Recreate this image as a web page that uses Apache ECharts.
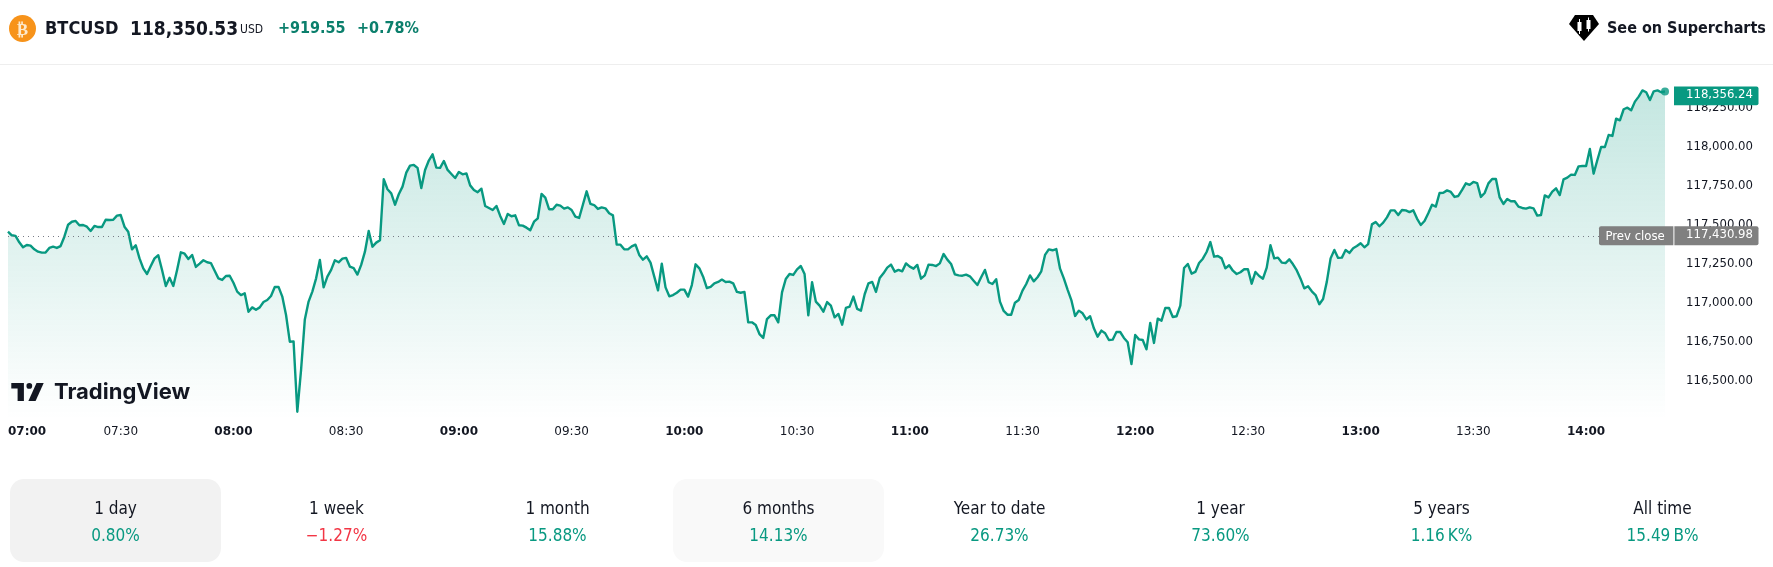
<!DOCTYPE html>
<html>
<head>
<meta charset="utf-8">
<title>BTCUSD</title>
<script src="https://cdn.jsdelivr.net/npm/echarts@6/dist/echarts.min.js"></script>
<style>
html, body { margin: 0; padding: 0; background: #fff; }
body { width: 1773px; height: 567px; position: relative; overflow: hidden;
       font-family: "DejaVu Sans Condensed", "DejaVu Sans", sans-serif; color: #131722; }
#chart { position: absolute; left: 0; top: 0; width: 1773px; height: 567px; }
.abs { position: absolute; white-space: nowrap; }
.head { top: 17px; line-height: 22px; font-size: 18px; font-weight: 700; }
.green { color: #0b7f6c; }
#rule { position: absolute; left: 0; top: 64px; width: 1773px; height: 1px; background: #eeeeee; }
.tile { position: absolute; top: 479px; width: 211px; height: 83px; border-radius: 14px; text-align: center; }
.tile .name { position: absolute; left: 0; right: 0; top: 19px; font-size: 17px; line-height: 20px; color: #131722; }
.tile .val { position: absolute; left: 0; right: 0; top: 46px; font-size: 17px; line-height: 20px; }
</style>
</head>
<body>
<div id="chart"></div>
<div id="rule"></div>

<svg class="abs" style="left:9px;top:15px" width="27" height="27" viewBox="0 0 27 27">
  <circle cx="13.5" cy="13.5" r="13.5" fill="#f7931a"/>
  <text x="13.5" y="19.5" text-anchor="middle" font-size="17" font-weight="700" fill="#fde9cc" font-family="DejaVu Sans">₿</text>
</svg>
<div class="abs head" style="left:45px">BTCUSD</div>
<div class="abs head" style="left:130px;font-size:19px">118,350.53</div>
<div class="abs" style="left:240px;top:21px;font-size:12px;line-height:16px">USD</div>
<div class="abs head green" style="left:278px;font-size:16px">+919.55</div>
<div class="abs head green" style="left:357px;font-size:16px">+0.78%</div>

<svg class="abs" style="left:1569px;top:15px" width="30" height="26" viewBox="0 0 30 26">
  <path d="M6 0H24L30 9L15 26L0 9Z" fill="#000"/>
  <rect x="8.5" y="7" width="4" height="9" fill="#fff"/><rect x="10" y="4" width="1" height="15" fill="#fff"/>
  <rect x="17.5" y="5" width="4" height="9" fill="#fff"/><rect x="19" y="2.5" width="1" height="14" fill="#fff"/>
</svg>
<div class="abs head" style="left:1607px;font-size:16px">See on Supercharts</div>

<svg class="abs" style="left:11px;top:383px" width="33" height="18" viewBox="0 0 36 20">
  <path d="M14 0H0v6h7v14h7z" fill="#131722"/>
  <circle cx="20" cy="3.2" r="3.2" fill="#131722"/>
  <path d="M28 0h8l-9 20h-8z" fill="#131722"/>
</svg>
<div class="abs" style="left:54px;top:377px;font:700 22px/28px Inter, sans-serif;color:#131722">TradingView</div>

<div id="tiles"></div>

<script>
// one close per minute from 07:00
var prices = [
117457,117434,117430,117389,117357,117372,117368,117344,117329,117323,
117323,117353,117361,117353,117365,117425,117502,117521,117526,117498,
117500,117489,117462,117494,117487,117487,117534,117532,117534,117560,
117564,117489,117457,117344,117370,117286,117222,117186,117237,117286,
117306,117212,117109,117162,117109,117212,117325,117316,117282,117308,
117231,117252,117274,117261,117256,117207,117158,117148,117173,117175,
117130,117073,117051,117062,116944,116972,116957,116972,117006,117019,
117045,117103,117103,117041,116923,116752,116754,116303,116571,116895,
117009,117073,117158,117276,117100,117169,117212,117274,117261,117284,
117289,117233,117224,117182,117244,117329,117462,117361,117387,117402,
117793,117729,117703,117630,117697,117746,117836,117881,117885,117866,
117737,117853,117913,117953,117868,117866,117910,117853,117827,117801,
117840,117825,117831,117754,117725,117710,117733,117622,117609,117596,
117622,117558,117507,117571,117556,117562,117498,117496,117483,117466,
117521,117543,117699,117675,117601,117601,117630,117624,117605,117613,
117596,117554,117545,117630,117716,117635,117628,117603,117613,117607,
117575,117562,117374,117374,117344,117344,117363,117374,117308,117278,
117299,117259,117169,117081,117252,117100,117043,117051,117066,117086,
117086,117041,117115,117248,117222,117169,117096,117103,117126,117135,
117150,117135,117137,117126,117071,117066,117071,116876,116876,116859,
116801,116776,116897,116921,116921,116876,117068,117154,117186,117180,
117216,117237,117186,116921,117133,117009,116983,116944,117006,116983,
116908,116930,116861,116968,116977,117041,116962,116951,117056,117126,
117135,117071,117160,117190,117227,117246,117201,117212,117203,117254,
117233,117220,117244,117156,117177,117246,117244,117237,117254,117314,
117278,117250,117184,117177,117175,117182,117171,117143,117115,117165,
117212,117133,117122,117152,117009,116949,116925,116925,117002,117019,
117079,117122,117177,117139,117165,117203,117308,117344,117338,117346,
117220,117158,117086,117019,116917,116951,116934,116895,116915,116838,
116784,116823,116806,116763,116765,116814,116814,116776,116748,116609,
116795,116767,116763,116703,116872,116744,116900,116887,116968,116968,
116910,116915,116983,117224,117250,117188,117199,117256,117284,117327,
117391,117297,117301,117286,117222,117242,117207,117186,117197,117216,
117216,117124,117199,117173,117156,117227,117370,117286,117291,117259,
117256,117280,117248,117209,117156,117094,117107,117075,117051,116992,
117026,117137,117286,117340,117289,117291,117340,117321,117351,117365,
117383,117357,117378,117504,117519,117492,117515,117549,117594,117594,
117564,117596,117594,117583,117594,117541,117500,117526,117575,117630,
117618,117705,117707,117722,117712,117680,117686,117725,117767,117757,
117776,117769,117680,117705,117767,117795,117795,117677,117635,117667,
117652,117652,117618,117609,117605,117613,117607,117560,117564,117690,
117677,117714,117735,117692,117793,117804,117823,117821,117876,117878,
117878,117987,117829,117917,118000,118000,118077,118071,118182,118171,
118242,118252,118235,118291,118323,118363,118351,118301,118357,118363,
118351,118356.24
];
var prevClose = 117430.98;
var lastPrice = 118356.24;
var periodNames = ['1 day', '1 week', '1 month', '6 months', 'Year to date', '1 year', '5 years', 'All time'];
var periodValues = ['0.80%', '\u22121.27%', '15.88%', '14.13%', '26.73%', '73.60%', '1.16\u2009K%', '15.49\u2009B%'];

var UP = '#089981';
var DOWN = '#f23645';
var AXIS_FONT = '"DejaVu Sans Condensed", "DejaVu Sans", sans-serif';

// period tiles under the chart
var tiles = document.getElementById('tiles');
periodNames.forEach(function(name, i){
    var t = document.createElement('div');
    t.className = 'tile';
    t.style.left = (10 + i * 221) + 'px';
    if (i == 0) t.style.background = '#f2f2f2';
    if (i == 3) t.style.background = '#f9f9f9';
    var neg = periodValues[i].charAt(0) == '\u2212';
    t.innerHTML = '<div class="name">' + name + '</div><div class="val" style="color:' +
                  (neg ? DOWN : UP) + '">' + periodValues[i] + '</div>';
    tiles.appendChild(t);
});

var myChart = echarts.init(document.getElementById('chart'));

var lineData = prices.map(function(p, i){ return [i, p]; });

var minuteLabel = function(v){
    var h = 7 + Math.floor(v / 60);
    var m = v % 60;
    var s = (h < 10 ? '0' : '') + h + ':' + (m < 10 ? '0' : '') + m;
    return m == 0 ? '{hour|' + s + '}' : s;
};

var option = {
    animation: false,
    grid: { left: 8, top: 69, width: 1657, height: 351, containLabel: false },
    xAxis: {
        type: 'value',
        min: 0,
        max: 441,
        interval: 30,
        axisLine: { show: false },
        axisTick: { show: false },
        splitLine: { show: false },
        axisLabel: {
            formatter: minuteLabel,
            margin: 6,
            color: '#131722',
            fontSize: 12,
            fontFamily: '"DejaVu Sans", sans-serif',
            alignMinLabel: 'left',
            showMaxLabel: false,
            rich: { hour: { fontWeight: 700, fontSize: 12, color: '#131722', fontFamily: '"DejaVu Sans", sans-serif' } }
        }
    },
    yAxis: {
        type: 'value',
        position: 'right',
        min: 116250,
        max: 118500,
        interval: 250,
        axisLine: { show: false },
        axisTick: { show: false },
        splitLine: { show: false },
        axisLabel: {
            showMinLabel: false,
            showMaxLabel: false,
            margin: 21,
            align: 'left',
            color: '#131722',
            fontSize: 13,
            fontFamily: AXIS_FONT,
            formatter: function(v){ return v.toLocaleString('en-US', { minimumFractionDigits: 2 }); }
        }
    },
    series: [
        {
            type: 'line',
            data: lineData,
            showSymbol: false,
            lineStyle: { color: UP, width: 2.4, join: 'round' },
            areaStyle: {
                origin: 'start',
                color: {
                    type: 'linear', x: 0, y: 0, x2: 0, y2: 1,
                    colorStops: [
                        { offset: 0, color: 'rgba(8,153,129,0.34)' },
                        { offset: 1, color: 'rgba(8,153,129,0)' }
                    ]
                }
            },
            markLine: {
                silent: true,
                symbol: 'none',
                label: { show: false },
                lineStyle: { color: '#787b86', width: 1, type: [1, 4] },
                data: [{ yAxis: prevClose }]
            },
            z: 3
        },
        {
            type: 'scatter',
            data: [[441, lastPrice]],
            symbolSize: 8,
            itemStyle: { color: UP },
            clip: false,
            z: 4
        }
    ]
};
myChart.setOption(option);

// price badges sit on the axis at the value of the line
var lastY = myChart.convertToPixel({ yAxisIndex: 0 }, lastPrice);
var prevY = myChart.convertToPixel({ yAxisIndex: 0 }, prevClose);

var badgeText = function(x, y, text){
    return {
        type: 'text', x: x, y: y, z: 20,
        style: { text: text, fill: '#fff', font: '13px ' + AXIS_FONT, textAlign: 'left', textVerticalAlign: 'middle' }
    };
};
var badgeRect = function(x, y, w, color, r){
    return {
        type: 'rect', z: 19,
        shape: { x: x, y: y - 9.4, width: w, height: 18.8, r: r },
        style: { fill: color }
    };
};

myChart.setOption({
    graphic: [
        badgeRect(1674, lastY + 4.4, 84.5, UP, [0, 2, 2, 0]),
        badgeText(1686, lastY + 3.6, '118,356.24'),
        badgeRect(1599, prevY, 74.4, '#808080', [2, 0, 0, 2]),
        badgeRect(1674.4, prevY, 84.1, '#808080', [0, 2, 2, 0]),
        badgeText(1605.5, prevY + 0.5, 'Prev close'),
        badgeText(1686, prevY - 1, '117,430.98')
    ]
});
</script>
</body>
</html>
